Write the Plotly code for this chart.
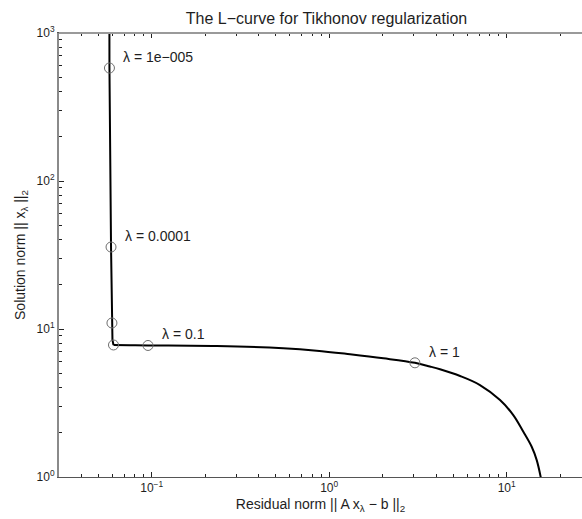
import numpy as np
import plotly.graph_objects as go

# L-curve samples (residual norm, solution norm): steep branch
steep_res = [0.05771, 0.05771, 0.0578, 0.0590, 0.0597, 0.0601, 0.0609]
steep_sol = [3000, 1000, 580, 35.8, 10.98, 8.43, 7.80]
# flat branch
flat_res = [0.0609, 0.0755, 0.0953, 0.2324, 0.551, 0.850, 1.31, 2.02, 3.04, 3.69,
            4.21, 5.46, 7.07, 9.17, 10.89, 12.41, 13.83, 14.76, 15.54, 15.7]
flat_sol = [7.80, 7.77, 7.74, 7.67, 7.41, 7.14, 6.75, 6.34, 5.91, 5.58,
            5.34, 4.81, 4.18, 3.31, 2.62, 2.02, 1.60, 1.30, 1.0, 0.93]

# marked regularization parameters
mark_res = [0.0578, 0.0590, 0.0597, 0.0609, 0.0953, 3.04]
mark_sol = [580, 35.8, 10.98, 7.80, 7.74, 5.91]
mark_lab = ["λ = 1e−005", "λ = 0.0001", "", "", "λ = 0.1", "λ = 1"]

x_major = [0.1, 1, 10]
x_major_txt = ["10<sup>−1</sup>", "10<sup>0</sup>", "10<sup>1</sup>"]
x_minor = [0.04, 0.05, 0.06, 0.07, 0.08, 0.09, 0.2, 0.3, 0.4, 0.5, 0.6, 0.7, 0.8, 0.9,
           2, 3, 4, 5, 6, 7, 8, 9, 20]
y_major = [1, 10, 100, 1000]
y_major_txt = ["10<sup>0</sup>", "10<sup>1</sup>", "10<sup>2</sup>", "10<sup>3</sup>"]
y_minor = [m * 10 ** k for k in range(3) for m in range(2, 10)]

FONT = "Liberation Sans, Arial, sans-serif"
TXT = "#1e1e1e"

fig = go.Figure()
fig.add_trace(go.Scatter(x=steep_res, y=steep_sol, mode="lines",
                         line=dict(color="black", width=2),
                         showlegend=False, hoverinfo="skip"))
fig.add_trace(go.Scatter(x=flat_res, y=flat_sol, mode="lines",
                         line=dict(color="black", width=2, shape="spline", smoothing=1.0),
                         showlegend=False, hoverinfo="skip"))
fig.add_trace(go.Scatter(x=mark_res, y=mark_sol, mode="markers",
                         marker=dict(symbol="circle-open", size=10, color="#6e6e6e",
                                     line=dict(width=1, color="#6e6e6e")),
                         showlegend=False))

for xr, ys, lab in zip(mark_res, mark_sol, mark_lab):
    if lab:
        fig.add_annotation(x=np.log10(xr), y=np.log10(ys), text=lab, showarrow=False,
                           xanchor="left", yanchor="middle", xshift=12, yshift=11,
                           font=dict(family=FONT, size=14, color=TXT))

fig.update_layout(
    width=582, height=519,
    margin=dict(l=59, r=0, t=33, b=42),
    paper_bgcolor="white", plot_bgcolor="white",
    font=dict(family=FONT, size=12, color=TXT),
    title=dict(text="The L−curve for Tikhonov regularization", x=326.5 / 582, xanchor="center",
               y=1 - 18 / 519, yanchor="middle", font=dict(family=FONT, size=16, color=TXT)),
    xaxis=dict(type="log", range=[-1.5223, 1.4242], tickmode="array", tickvals=x_major,
               ticktext=x_major_txt,
               ticks="inside", ticklen=5, tickcolor="#222", showgrid=False, zeroline=False,
               showline=True, linecolor="#555", linewidth=1, mirror="allticks",
               minor=dict(tickmode="array", tickvals=x_minor, ticks="inside", ticklen=3,
                          tickcolor="#222", showgrid=False),
               title=dict(text="Residual norm || A x<sub>λ</sub> − b ||<sub>2</sub>", standoff=4,
                          font=dict(family=FONT, size=14, color=TXT)),
               tickfont=dict(family=FONT, size=12, color=TXT)),
    yaxis=dict(type="log", range=[0, 3], tickmode="array", tickvals=y_major,
               ticktext=y_major_txt,
               ticks="inside", ticklen=5, tickcolor="#222", showgrid=False, zeroline=False,
               showline=True, linecolor="#8a8a8a", linewidth=2, mirror=False,
               minor=dict(tickmode="array", tickvals=y_minor, ticks="inside", ticklen=3,
                          tickcolor="#222", showgrid=False),
               title=dict(text="Solution norm || x<sub>λ</sub> ||<sub>2</sub>", standoff=8,
                          font=dict(family=FONT, size=14, color=TXT)),
               tickfont=dict(family=FONT, size=12, color=TXT)),
)
# top border drawn gray and heavier, as in the reference
fig.add_shape(type="line", xref="paper", yref="paper", x0=0, x1=1, y0=1, y1=1,
              line=dict(color="#9a9a9a", width=2))

fig.write_html("out.html")
